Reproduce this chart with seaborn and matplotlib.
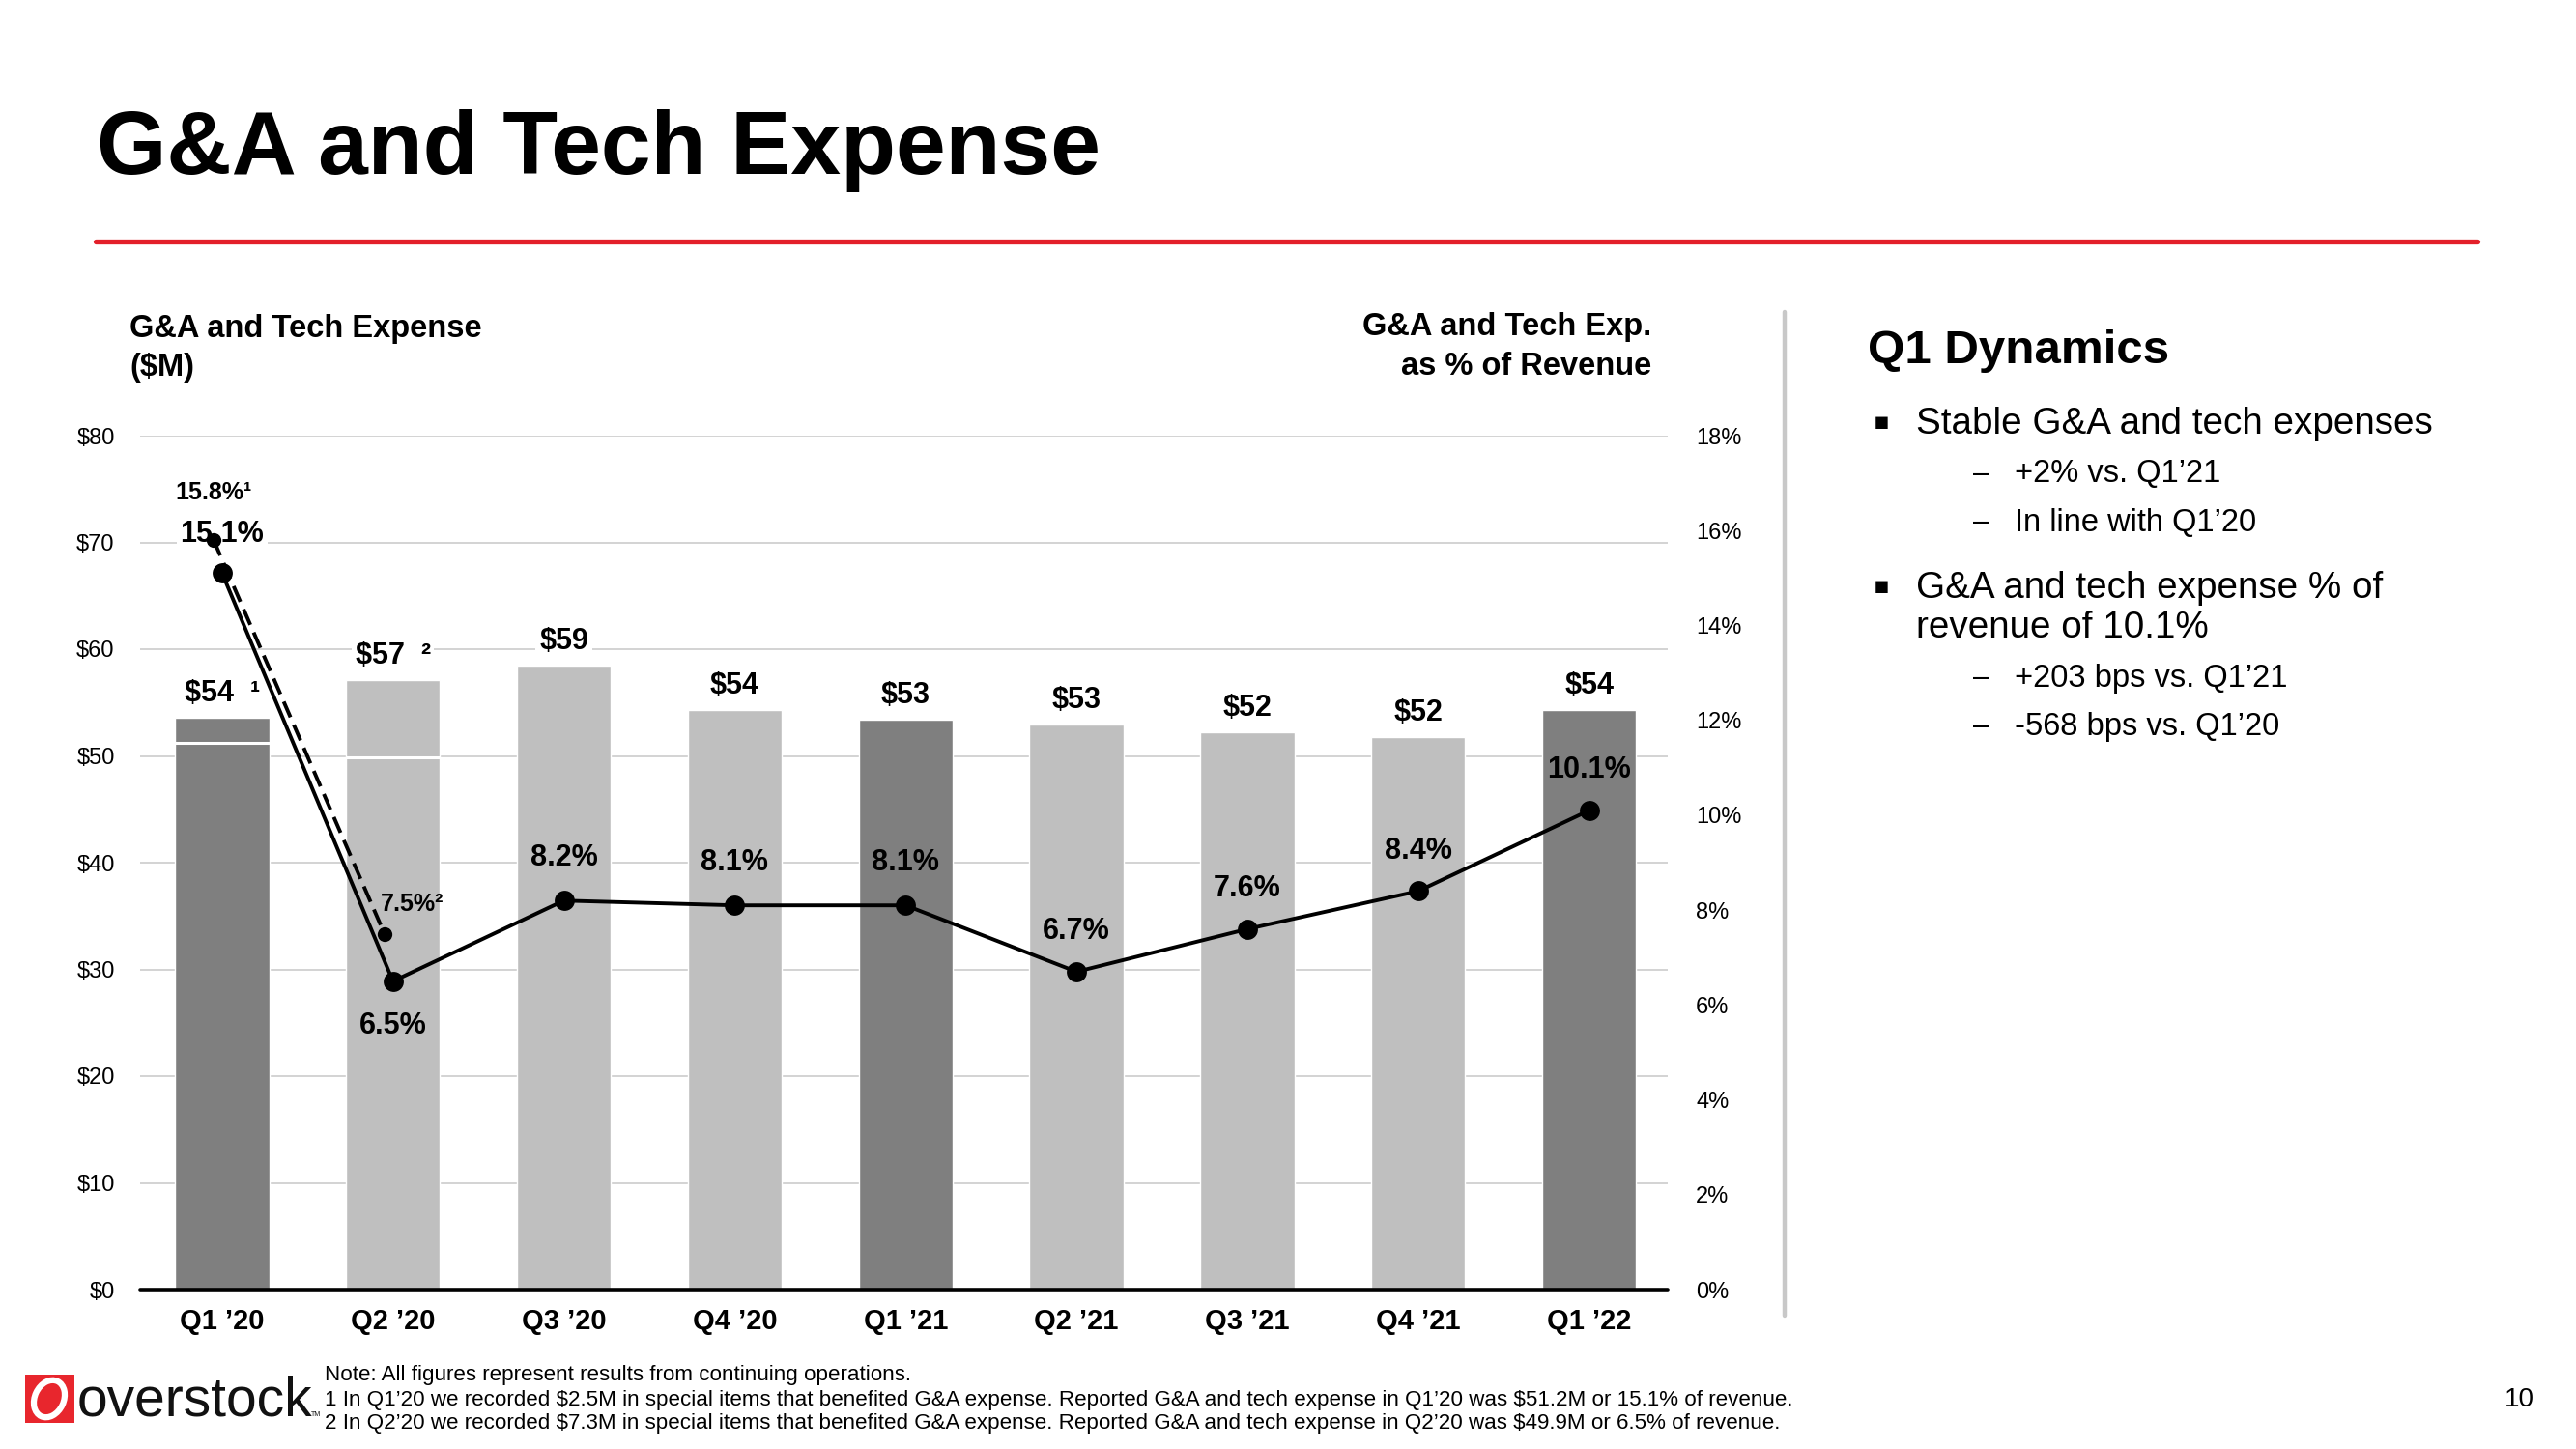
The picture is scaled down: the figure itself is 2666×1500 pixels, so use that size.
import matplotlib
matplotlib.use("Agg")
import matplotlib.pyplot as plt
import matplotlib.patches as mpatches
from matplotlib.lines import Line2D
import seaborn as sns
import numpy as np
import pandas as pd

# ---------------- data ----------------
categories = ["Q1 ’20", "Q2 ’20", "Q3 ’20", "Q4 ’20", "Q1 ’21",
              "Q2 ’21", "Q3 ’21", "Q4 ’21", "Q1 ’22"]
expense_m = [53.6, 57.1, 58.5, 54.3, 53.4, 52.9, 52.2, 51.8, 54.3]
expense_labels = ["$54", "$57", "$59", "$54", "$53", "$53", "$52", "$52", "$54"]
expense_notes = ["1", "2", "", "", "", "", "", "", ""]
reported_m = [51.2, 49.9]            # reported Q1'20, Q2'20 (white marks)
pct_revenue = [15.1, 6.5, 8.2, 8.1, 8.1, 6.7, 7.6, 8.4, 10.1]
pct_adjusted = [15.8, 7.5]           # adjusted Q1'20, Q2'20 (dashed)
pct_adjusted_notes = ["1", "2"]
bar_kind = ["Q1", "other", "other", "other", "Q1", "other", "other", "other", "Q1"]
left_ticks = [0, 10, 20, 30, 40, 50, 60, 70, 80]
right_ticks = [0, 2, 4, 6, 8, 10, 12, 14, 16, 18]

bullets = [
    ("main", "Stable G&A and tech expenses"),
    ("sub", "+2% vs. Q1’21"),
    ("sub", "In line with Q1’20"),
    ("main", "G&A and tech expense % of"),
    ("cont", "revenue of 10.1%"),
    ("sub", "+203 bps vs. Q1’21"),
    ("sub", "-568 bps vs. Q1’20"),
]
notes = [
    "Note: All figures represent results from continuing operations.",
    "1 In Q1’20 we recorded $2.5M in special items that benefited G&A expense. Reported G&A and tech expense in Q1’20 was $51.2M or 15.1% of revenue.",
    "2 In Q2’20 we recorded $7.3M in special items that benefited G&A expense. Reported G&A and tech expense in Q2’20 was $49.9M or 6.5% of revenue.",
]

# ---------------- style ----------------
sns.set_theme(style="white")
REG = ["Liberation Sans", "DejaVu Sans"]
plt.rcParams["font.family"] = REG
plt.rcParams["text.color"] = "black"

W, H = 2666, 1500
fig = plt.figure(figsize=(W / 100, H / 100), dpi=100)
fig.patch.set_facecolor("white")


def fx(x):
    return x / W


def fy(y):
    return 1 - y / H


SUP = {"1": "¹", "2": "²"}

# axes placement (pixels)
ax_l, ax_r, ax_t, ax_b = 145, 1726, 451, 1335
ax = fig.add_axes([fx(ax_l), fy(ax_b), fx(ax_r - ax_l), (ax_b - ax_t) / H])

df = pd.DataFrame({"quarter": categories, "expense": expense_m, "kind": bar_kind})
sns.barplot(data=df, x="quarter", y="expense", hue="kind",
            palette={"Q1": "#7F7F7F", "other": "#BFBFBF"},
            dodge=False, width=0.55, saturation=1, legend=False, ax=ax, zorder=2)

ax.set_ylim(0, 80)
ax.set_xlim(-0.48, 8.46)
ax.set_yticks(left_ticks)
ax.set_yticklabels([f"${t}" for t in left_ticks])
ax.yaxis.grid(True, color="#D0D0D0", lw=1.3, zorder=0)
ax.set_axisbelow(True)
ax.set_xlabel("")
ax.set_ylabel("")
for s in ax.spines.values():
    s.set_visible(False)
ax.tick_params(axis="y", length=0, pad=19, labelsize=17, labelcolor="#000000")
ax.tick_params(axis="x", length=0, pad=14, labelsize=21, labelcolor="#000000")
for lbl in ax.get_xticklabels():
    lbl.set_fontweight("bold")
ax.axhline(0, color="black", lw=2.6, zorder=6, clip_on=False)

# reported-value white marks inside first two bars
for i, v in enumerate(reported_m):
    ax.hlines(v, i - 0.275, i + 0.275, color="white", lw=2.2, zorder=3)

# bar value labels
for i, (v, lab, note) in enumerate(zip(expense_m, expense_labels, expense_notes)):
    txt = lab + ("  " + SUP[note] if note else "")
    ax.annotate(txt, (i, v), xytext=(0, 18), textcoords="offset points",
                ha="center", va="center", fontsize=22, fontweight="bold",
                color="black", zorder=4,
                bbox=dict(boxstyle="square,pad=0.12", fc="white", ec="none"))

# ---------------- percentage line ----------------
ax2 = ax.twinx()
ax2.set_ylim(0, 18)
xs = np.arange(len(categories))
sns.lineplot(x=xs, y=pct_revenue, ax=ax2, color="black", lw=2.8,
             marker="o", markersize=15, markeredgewidth=0, zorder=5)
sns.lineplot(x=xs[:2] - 0.05, y=pct_adjusted, ax=ax2, color="black", lw=2.8,
             linestyle=(0, (4.5, 2.2)), marker="o", markersize=11,
             markeredgewidth=0, zorder=5)
ax2.set_xlim(-0.48, 8.46)
ax2.set_yticks(right_ticks)
ax2.set_yticklabels([f"{t}%" for t in right_ticks])
ax2.tick_params(axis="y", length=0, pad=21, labelsize=17, labelcolor="#000000")
ax2.grid(False)
ax2.set_ylabel("")
for s in ax2.spines.values():
    s.set_visible(False)

pct_offsets = [29, -33, 32, 32, 32, 30, 30, 30, 30]
for i, (p, dy) in enumerate(zip(pct_revenue, pct_offsets)):
    kw = {}
    if i == 0:
        kw["bbox"] = dict(boxstyle="square,pad=0.12", fc="white", ec="none")
    ax2.annotate(f"{p}%", (i, p), xytext=(0, dy), textcoords="offset points",
                 ha="center", va="center", fontsize=22, fontweight="bold",
                 color="black", zorder=3, **kw)

# adjusted labels
adj_offsets = [(0, 35), (21, 22)]
for i, (p, (dx, dy), note) in enumerate(zip(pct_adjusted, adj_offsets, pct_adjusted_notes)):
    ax2.annotate(f"{p}%" + SUP[note], (i - 0.05, p), xytext=(dx, dy),
                 textcoords="offset points", ha="center", va="center",
                 fontsize=18, fontweight="bold", color="black", zorder=3)

# ---------------- slide decorations ----------------
fig.text(fx(100), fy(180), "G&A and Tech Expense", fontsize=67, fontweight="bold",
         ha="left", va="baseline", color="black")
fig.add_artist(Line2D([fx(99), fx(2564)], [fy(250), fy(250)], color="#E3202A",
                      lw=3.8, transform=fig.transFigure))
fig.add_artist(Line2D([fx(1847), fx(1847)], [fy(323), fy(1362)], color="#C8C8C8",
                      lw=3.2, transform=fig.transFigure))

fig.text(fx(134), fy(340), "G&A and Tech Expense", fontsize=23.5, fontweight="bold",
         ha="left", va="center")
fig.text(fx(134), fy(381), "($M)", fontsize=23.5, fontweight="bold",
         ha="left", va="center")
fig.text(fx(1709), fy(338), "G&A and Tech Exp.", fontsize=23.5, fontweight="bold",
         ha="right", va="center")
fig.text(fx(1709), fy(379), "as % of Revenue", fontsize=23.5, fontweight="bold",
         ha="right", va="center")

# right panel
fig.text(fx(1933), fy(364), "Q1 Dynamics", fontsize=35.5, fontweight="bold",
         ha="left", va="center")
ys = [439, 491, 541, 609, 650, 702, 752]
for (kind, txt), y in zip(bullets, ys):
    if kind in ("main", "cont"):
        if kind == "main":
            fig.text(fx(1947), fy(y - 2), "▪", fontsize=18, ha="center", va="center",
                     family=["DejaVu Sans"])
        fig.text(fx(1983), fy(y), txt, fontsize=27.8, ha="left", va="center")
    else:
        fig.text(fx(2051), fy(y), "–", fontsize=22, ha="center", va="center")
        fig.text(fx(2085), fy(y), txt, fontsize=23.5, ha="left", va="center")

# footer logo
lax = fig.add_axes([fx(26), fy(1473), fx(51), 50 / H])
lax.set_xlim(0, 51)
lax.set_ylim(0, 50)
lax.axis("off")
lax.add_patch(mpatches.Rectangle((0, 0), 51, 50, color="#E8262D"))
lax.add_patch(mpatches.Ellipse((25, 25), 30, 40, angle=-25, fc="none",
                               ec="white", lw=4.5))
fig.text(fx(80), fy(1465), "overstock", fontsize=41, ha="left", va="baseline",
         color="#111111")
fig.text(fx(322), fy(1466), "TM", fontsize=5, ha="left", va="baseline",
         color="#111111")

for txt, y in zip(notes, [1423, 1449, 1474]):
    fig.text(fx(336), fy(y), txt, fontsize=16.1, ha="left", va="center",
             parse_math=False, color="black")

fig.text(fx(2607), fy(1449), "10", fontsize=20, ha="center", va="center")

fig.savefig("out.png", dpi=100, facecolor="white")
